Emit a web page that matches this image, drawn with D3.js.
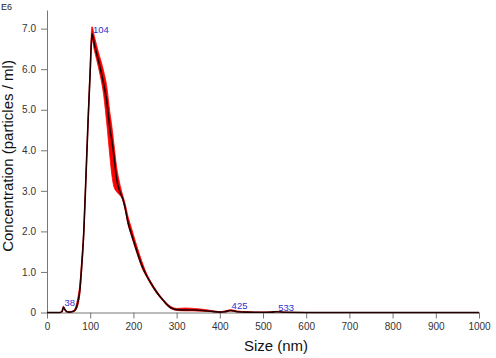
<!DOCTYPE html>
<html>
<head>
<meta charset="utf-8">
<script src="https://cdn.jsdelivr.net/npm/d3@7"></script>
<style>
  body { margin: 0; background: #fff; }
  svg { display: block; font-family: "Liberation Sans", Arial, sans-serif; }
  .tick text { fill: #333; font-size: 10px; }
  .tick line, .domain { stroke: #777; }
</style>
</head>
<body>
<svg id="chart" width="496" height="358"></svg>
<script>
// size bins (nm)
var sizes = [0, 30, 35, 38, 41, 46, 52, 58, 64, 68, 72, 76, 80, 85, 90, 95, 100, 104, 110, 119,
  125, 130, 138, 146, 150, 155, 161, 168, 175, 180, 188, 195, 200, 210, 220, 231, 240, 254, 269, 280, 290,
  300, 320, 340, 360, 380, 400, 412, 425, 440, 460, 500, 520, 533, 550, 600, 700, 800, 900, 1000];

// mean concentration (E6 particles / ml)
var meanConc = [0, 0, 0.03, 0.13, 0.08, 0.02, 0.01, 0.02, 0.05, 0.12, 0.28, 0.55, 1.1, 1.95, 3.3, 4.7, 5.95, 6.88, 6.6, 6.22,
  5.95, 5.7, 5.23, 4.5, 4.25, 3.85, 3.3, 3.0, 2.82, 2.62, 2.2, 1.95, 1.78, 1.45, 1.15, 0.9, 0.73, 0.5, 0.3, 0.17, 0.1,
  0.07, 0.06, 0.06, 0.05, 0.03, 0.01, 0.02, 0.05, 0.02, 0.01, 0.005, 0.01, 0.02, 0.005, 0, 0, 0, 0, 0];

// error band, upper and lower
var upperConc = [0, 0, 0.05, 0.16, 0.1, 0.03, 0.02, 0.03, 0.08, 0.2, 0.4, 0.7, 1.25, 2.05, 3.4, 4.8, 6.1, 7.05, 6.8, 6.42,
  6.2, 6.0, 5.6, 4.9, 4.6, 4.15, 3.6, 3.2, 2.9, 2.72, 2.35, 2.1, 1.92, 1.57, 1.25, 0.95, 0.77, 0.53, 0.32, 0.2, 0.13,
  0.1, 0.11, 0.1, 0.08, 0.05, 0.02, 0.04, 0.07, 0.04, 0.02, 0.01, 0.015, 0.03, 0.01, 0, 0, 0, 0, 0];
var lowerConc = [0, 0, 0.01, 0.1, 0.06, 0.01, 0, 0.01, 0.03, 0.08, 0.2, 0.45, 1.0, 1.85, 3.2, 4.6, 5.85, 6.72, 6.45, 6.05,
  5.75, 5.45, 4.7, 3.8, 3.4, 3.1, 2.98, 2.9, 2.78, 2.58, 2.15, 1.9, 1.73, 1.4, 1.1, 0.87, 0.7, 0.47, 0.28, 0.15, 0.08,
  0.05, 0.04, 0.04, 0.03, 0.02, 0, 0.01, 0.04, 0.01, 0.005, 0, 0.005, 0.015, 0, 0, 0, 0, 0, 0];

var xTicks = [0, 100, 200, 300, 400, 500, 600, 700, 800, 900, 1000];
var yTicks = [0, 1, 2, 3, 4, 5, 6, 7];

// peak labels
var peakSizes = [38, 104, 425, 533];
var peakConc = [0.13, 6.88, 0.05, 0.02];

var data = sizes.map(function (s, i) {
  return { size: s, mean: meanConc[i], hi: upperConc[i], lo: lowerConc[i] };
});

var svg = d3.select("#chart");

var x = d3.scaleLinear().domain([0, 1000]).range([47, 479]);
var y = d3.scaleLinear().domain([0, 7.46]).range([312.5, 10]);

// red error band
var band = d3.area()
  .x(function (d) { return x(d.size); })
  .y0(function (d) { return y(d.lo); })
  .y1(function (d) { return y(d.hi); })
  .curve(d3.curveMonotoneX);

svg.append("path")
  .datum(data)
  .attr("d", band)
  .attr("fill", "#ff0000")
  .attr("stroke", "#ff0000")
  .attr("stroke-width", 0.8);

// axes
svg.append("g")
  .attr("transform", "translate(0,312.5)")
  .call(d3.axisBottom(x).tickValues(xTicks).tickSize(6).tickSizeOuter(0).tickPadding(4)
    .tickFormat(d3.format("d")));

svg.append("g")
  .attr("transform", "translate(47,0)")
  .call(d3.axisLeft(y).tickValues(yTicks).tickSize(6).tickSizeOuter(0).tickPadding(5)
    .tickFormat(function (d) { return d === 0 ? "0" : d.toFixed(1); }));

// mean line
var line = d3.line()
  .x(function (d) { return x(d.size); })
  .y(function (d) { return y(d.mean); })
  .curve(d3.curveMonotoneX);

svg.append("path")
  .datum(data)
  .attr("d", line)
  .attr("fill", "none")
  .attr("stroke", "#220000")
  .attr("stroke-width", 1.6);

// peak annotations
svg.selectAll(".peak")
  .data(peakSizes)
  .enter()
  .append("text")
  .attr("class", "peak")
  .attr("x", function (d) { return x(d) + 1; })
  .attr("y", function (d, i) { return y(peakConc[i]) - 1; })
  .attr("fill", "#3030d0")
  .attr("font-size", "9.5px")
  .text(function (d) { return d; });

// titles
svg.append("text")
  .attr("x", 1)
  .attr("y", 10)
  .attr("font-size", "9px")
  .attr("fill", "#222")
  .text("E6");

svg.append("text")
  .attr("transform", "translate(13,156) rotate(-90)")
  .attr("text-anchor", "middle")
  .attr("font-size", "15px")
  .attr("fill", "#111")
  .text("Concentration (particles / ml)");

svg.append("text")
  .attr("x", 276)
  .attr("y", 351)
  .attr("text-anchor", "middle")
  .attr("font-size", "15px")
  .attr("fill", "#111")
  .text("Size (nm)");
</script>
</body>
</html>
